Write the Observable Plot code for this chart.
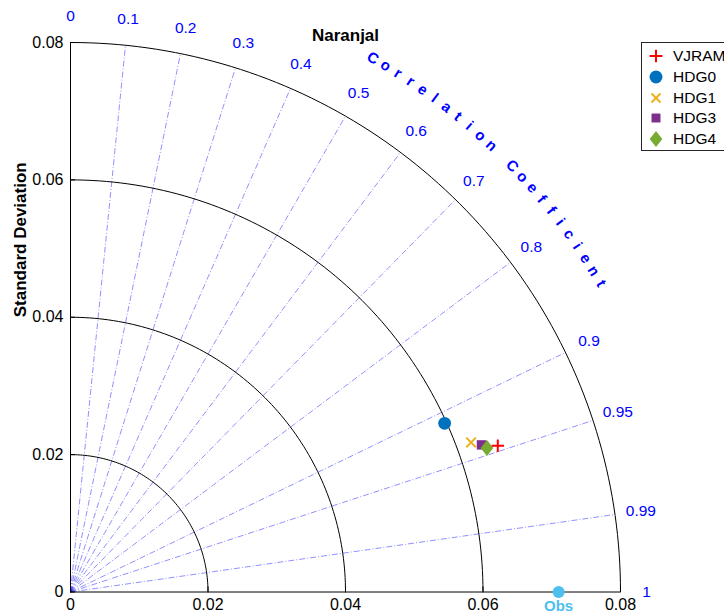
<!DOCTYPE html>
<html>
<head>
<meta charset="utf-8">
<script src="https://cdn.jsdelivr.net/npm/d3@7"></script>
<script src="https://cdn.jsdelivr.net/npm/@observablehq/plot@0.6"></script>
<style>
  html, body { margin: 0; padding: 0; background: #fff; overflow: hidden; }
  #wrap { position: relative; width: 724px; height: 614px; overflow: hidden; font-family: "Liberation Sans", Arial, Helvetica, sans-serif; }
  #legend { position: absolute; left: 641px; top: 42px; width: 100px; height: 109px; border: 1px solid #262626; background: #fff; box-sizing: border-box; }
  #legend .row { position: absolute; left: 0; height: 20px; display: flex; align-items: center; font-size: 15.5px; color: #000; white-space: nowrap; }
  #legend svg { width: 28px; height: 20px; overflow: visible; }
</style>
</head>
<body>
<div id="wrap"></div>
<script>
// Taylor diagram — Naranjal station
const titleText = "Naranjal";
const models = ["VJRAM", "HDG0", "HDG1", "HDG3", "HDG4"];
const stdDev = [0.0657, 0.0597, 0.0622, 0.0635, 0.0641];
const corrCoef = [0.946, 0.9115, 0.9367, 0.9414, 0.945];
const modelColors = ["#ff0000", "#0072BD", "#EDB120", "#7E2F8E", "#77AC30"];
const obsStd = 0.071;
const obsLabel = "Obs";
const stdTicks = [0, 0.02, 0.04, 0.06, 0.08];
const corrRays = [0.1, 0.2, 0.3, 0.4, 0.5, 0.6, 0.7, 0.8, 0.9, 0.95, 0.99];
const corrLabels = [0, 0.1, 0.2, 0.3, 0.4, 0.5, 0.6, 0.7, 0.8, 0.9, 0.95, 0.99, 1];
const corrTitle = "Correlation Coefficient";
const yTitle = "Standard Deviation";

const R = 0.08;            // outer radius
const labelR = 0.0838;     // radius of correlation labels
const arcTextR = 0.0893;   // radius of the curved axis title
const blue = "#0000ff";

// MATLAB-like diamond (slightly taller than wide)
const diamond = {
  draw(ctx, size) {
    const b = Math.sqrt(size / 1.6), a = 0.8 * b;
    ctx.moveTo(0, -b); ctx.lineTo(a, 0); ctx.lineTo(0, b); ctx.lineTo(-a, 0); ctx.closePath();
  }
};
const symbolStyle = {
  VJRAM: {symbol: "plus", r: 4.1, fill: "none", stroke: modelColors[0], strokeWidth: 2},
  HDG0: {symbol: "circle", r: 6.4, fill: modelColors[1], stroke: "none", strokeWidth: 0},
  HDG1: {symbol: "times", r: 4.4, fill: "none", stroke: modelColors[2], strokeWidth: 2},
  HDG3: {symbol: "square", r: 5.3, fill: modelColors[3], stroke: "none", strokeWidth: 0},
  HDG4: {symbol: diamond, r: 5.7, fill: modelColors[4], stroke: "none", strokeWidth: 0}
};

const points = models.map((m, i) => ({
  model: m,
  x: stdDev[i] * corrCoef[i],
  y: stdDev[i] * Math.sqrt(1 - corrCoef[i] ** 2)
}));

// standard-deviation arcs
const arcs = stdTicks.slice(1).flatMap(r =>
  d3.range(0, 91).map(a => ({r, x: r * Math.cos(a * Math.PI / 180), y: r * Math.sin(a * Math.PI / 180)}))
);

// curved axis title, one character per step along the arc
const chars = Array.from(corrTitle);
const a0 = 60.5, a1 = 30.2;
const arcChars = chars.map((c, i) => {
  const ang = a0 + (a1 - a0) * i / (chars.length - 1);
  const t = ang * Math.PI / 180;
  return {c, x: arcTextR * Math.cos(t), y: arcTextR * Math.sin(t), rot: 90 - ang};
});

const fmt = d => d === 0 ? "0" : d.toFixed(2);
const cfmt = d => String(d);

const marks = [];
// correlation rays
marks.push(Plot.link(corrRays, {
  x1: 0, y1: 0,
  x2: c => R * c, y2: c => R * Math.sqrt(1 - c * c),
  stroke: blue, strokeOpacity: 0.55, strokeWidth: 0.8, strokeDasharray: "6,2,1,2"
}));
// std arcs
marks.push(Plot.line(arcs, {x: "x", y: "y", z: "r", stroke: "#000", strokeWidth: 1}));
// axis lines
marks.push(Plot.ruleX([0], {y1: 0, y2: R, stroke: "#000", strokeWidth: 1}));
marks.push(Plot.ruleY([0], {x1: 0, x2: R, stroke: "#000", strokeWidth: 1}));
marks.push(Plot.axisX({ticks: stdTicks, tickFormat: fmt, tickSize: -5, tickPadding: 12, label: null, fontSize: 16}));
marks.push(Plot.axisY({ticks: stdTicks, tickFormat: fmt, tickSize: -5, tickPadding: 12, label: null, fontSize: 16}));
// correlation labels
marks.push(Plot.text(corrLabels, {
  x: c => labelR * c, y: c => labelR * Math.sqrt(1 - c * c),
  text: cfmt, fill: blue, fontSize: 15.5
}));
// curved title
marks.push(Plot.text(arcChars, {x: "x", y: "y", text: "c", rotate: "rot", fill: blue, fontSize: 15, fontWeight: "bold"}));
// observation
marks.push(Plot.dot([obsStd], {x: d => d, y: 0, r: 6, fill: "#4DBEEE", symbol: "circle"}));
marks.push(Plot.text([obsStd], {x: d => d, y: 0, text: () => obsLabel, dy: 14, fill: "#4DBEEE", fontWeight: "bold", fontSize: 15}));
// model points (VJRAM drawn last, on top)
const order = ["HDG0", "HDG1", "HDG3", "HDG4", "VJRAM"];
for (const m of order) {
  const s = symbolStyle[m];
  marks.push(Plot.dot(points.filter(p => p.model === m), {
    x: "x", y: "y", symbol: () => s.symbol, r: s.r, fill: s.fill, stroke: s.stroke, strokeWidth: s.strokeWidth
  }));
}
// titles
marks.push(Plot.text([titleText], {frameAnchor: "top", dy: -14, fontWeight: "bold", fontSize: 17}));
marks.push(Plot.text([yTitle], {frameAnchor: "left", rotate: -90, dx: -50, fontWeight: "bold", fontSize: 17}));

const chart = Plot.plot({
  width: 724, height: 614,
  marginLeft: 70, marginRight: 104, marginTop: 42, marginBottom: 22.5,
  x: {domain: [0, R]}, y: {domain: [0, R]},
  symbol: {type: "identity"},
  style: {fontFamily: "'Liberation Sans', Arial, Helvetica, sans-serif", overflow: "visible", background: "#fff"},
  marks
});
const wrap = document.getElementById("wrap");
wrap.appendChild(chart);

// legend
const legend = document.createElement("div");
legend.id = "legend";
const legendSym = {
  VJRAM: {type: d3.symbolPlus, size: 55, fill: "none", stroke: modelColors[0], sw: 2},
  HDG0: {type: d3.symbolCircle, size: 130, fill: modelColors[1], stroke: "none", sw: 0},
  HDG1: {type: d3.symbolTimes, size: 55, fill: "none", stroke: modelColors[2], sw: 2},
  HDG3: {type: d3.symbolSquare, size: 80, fill: modelColors[3], stroke: "none", sw: 0},
  HDG4: {type: diamond, size: 100, fill: modelColors[4], stroke: "none", sw: 0}
};
models.forEach((m, i) => {
  const row = document.createElement("div");
  row.className = "row";
  row.style.top = (3 + i * 20.75) + "px";
  const s = legendSym[m];
  const path = d3.symbol(s.type, s.size)();
  row.innerHTML = `<svg><path transform="translate(14,10)" d="${path}" fill="${s.fill}" stroke="${s.stroke}" stroke-width="${s.sw}"/></svg><span style="margin-left:3px">${m}</span>`;
  legend.appendChild(row);
});
wrap.appendChild(legend);
</script>
</body>
</html>
